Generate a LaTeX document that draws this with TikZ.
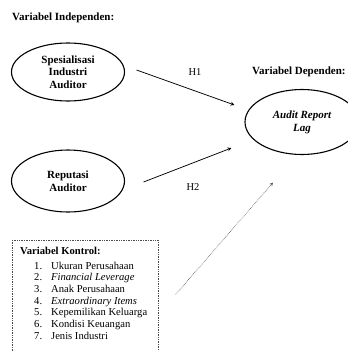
\documentclass[tikz,border=0pt]{standalone}
\usepackage{fontspec}
\setmainfont{Liberation Serif}
\usetikzlibrary{shapes.geometric, arrows}
\tikzstyle{elipsVariabel} = [ellipse, draw=black, line width=1.1pt, minimum width=113pt, minimum height=58pt, inner sep=0, align=center, font=\bfseries\fontsize{11}{12.5}\selectfont]
\tikzstyle{judulVariabel} = [anchor=west, inner sep=0, font=\bfseries\fontsize{11}{12}\selectfont]
\tikzstyle{labelPanah} = [inner sep=0, font=\fontsize{10.5}{12}\selectfont]
\tikzstyle{kotakKontrol} = [rectangle, draw=black!70, densely dotted, line width=0.7pt, anchor=north west, minimum width=146pt, minimum height=130pt]
\tikzstyle{panah} = [line width=0.75pt,->,>=stealth]
\tikzstyle{panahTitik} = [line width=0.6pt, densely dotted, black!70, ->,>=stealth]

\begin{document}
\begin{tikzpicture}[x=1pt, y=-1pt]
	\path[use as bounding box] (0,0) rectangle (348,351);
	\clip (0,0) rectangle (348,351);
	
	% Variabel independen
	\node (judulIndependen) [judulVariabel] at (12,18) {Variabel Independen:};
	\node (spesialisasi) [elipsVariabel] at (68,72) {Spesialisasi\\Industri\\Auditor};
	\node (reputasi) [elipsVariabel, minimum height=62pt] at (68,181) {Reputasi\\Auditor};
	
	% Variabel dependen
	\node (judulDependen) [judulVariabel] at (252,72) {Variabel Dependen:};
	\node (arl) [elipsVariabel, minimum width=114pt, minimum height=65pt, font=\bfseries\itshape\fontsize{11}{13}\selectfont] at (302,122) {Audit Report\\Lag};
	
	% Variabel kontrol
	\node (kontrol) [kotakKontrol] at (12,240) {};
	\node (daftarKontrol) [anchor=north west, inner sep=0, font=\fontsize{10.6}{11.7}\selectfont] at (20,246.5) {%
		\begin{tabular}{@{}r@{\hspace{9pt}}l@{}}
			\multicolumn{2}{@{}l}{\textbf{Variabel Kontrol:}}\\[2.5pt]
			\hspace{14pt}1. & Ukuran Perusahaan\\
			2. & \textit{Financial Leverage}\\
			3. & Anak Perusahaan\\
			4. & \textit{Extraordinary Items}\\
			5. & Kepemilikan Keluarga\\
			6. & Kondisi Keuangan\\
			7. & Jenis Industri
		\end{tabular}};
	
	% Label hipotesis
	\node (labelH1) [labelPanah] at (195,72) {H1};
	\node (labelH2) [labelPanah] at (193,187) {H2};
	
	% Ujung panah
	\coordinate (h1Awal) at ([xshift=11.5pt, yshift=2pt]spesialisasi.east);
	\coordinate (h1Akhir) at ([xshift=-10pt, yshift=17pt]arl.west);
	\coordinate (h2Awal) at ([xshift=18.5pt, yshift=-1pt]reputasi.east);
	\coordinate (h2Akhir) at ([xshift=-13pt, yshift=-26pt]arl.west);
	\coordinate (kontrolAwal) at ([xshift=17pt, yshift=11pt]kontrol.east);
	\coordinate (kontrolAkhir) at ([xshift=-29pt, yshift=-27.5pt]arl.south);
	
	% Panah
	\draw [panah] (h1Awal) -- (h1Akhir);
	\draw [panah] (h2Awal) -- (h2Akhir);
	\draw [panahTitik] (kontrolAwal) -- (kontrolAkhir);
	
\end{tikzpicture}
\end{document}
